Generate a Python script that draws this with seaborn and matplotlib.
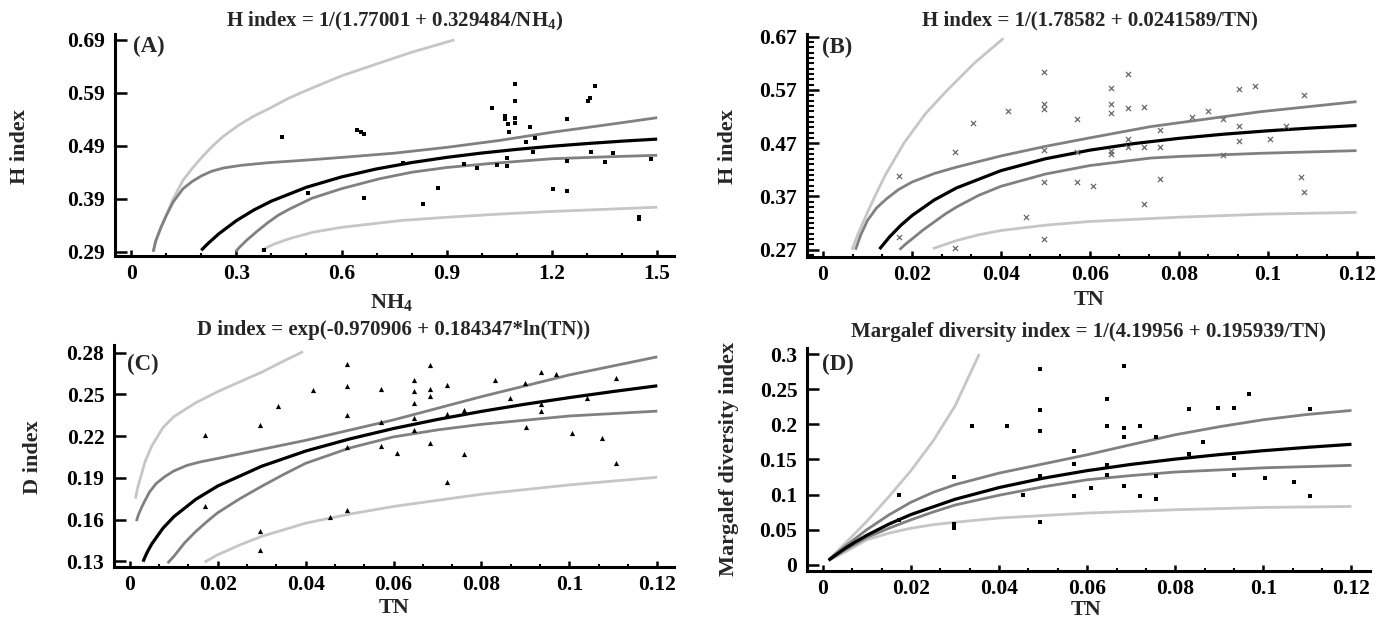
import matplotlib
matplotlib.use("Agg")
import matplotlib.pyplot as plt
import numpy as np
import pandas as pd
import seaborn as sns
from matplotlib.ticker import FixedLocator

# ---------------- data ----------------
# Panel A : H index vs NH4
A_x = [0.379, 0.431, 0.504, 0.643, 0.656, 0.665, 0.665, 0.774, 0.831, 0.876, 0.948, 0.986, 1.030, 1.043,
       1.066, 1.066, 1.075, 1.072, 1.072, 1.077, 1.096, 1.096, 1.096, 1.096, 1.126, 1.136, 1.151, 1.145,
       1.202, 1.244, 1.244, 1.242, 1.303, 1.309, 1.324, 1.310, 1.350, 1.373, 1.449, 1.449, 1.481]
A_y = [0.294, 0.506, 0.400, 0.519, 0.516, 0.512, 0.391, 0.458, 0.380, 0.411, 0.456, 0.448, 0.562, 0.454,
       0.546, 0.540, 0.532, 0.466, 0.451, 0.516, 0.607, 0.575, 0.543, 0.533, 0.497, 0.526, 0.505, 0.479,
       0.408, 0.540, 0.405, 0.462, 0.575, 0.580, 0.603, 0.479, 0.459, 0.476, 0.356, 0.352, 0.465]
A_fit_x = [0.2, 0.21, 0.22, 0.25, 0.3, 0.35, 0.4, 0.5, 0.6, 0.7, 0.8, 0.9, 1.0, 1.1, 1.2, 1.3, 1.4, 1.5]
A_fit_y = [0.2926, 0.2995, 0.3060, 0.3238, 0.3486, 0.3688, 0.3855, 0.4117, 0.4312, 0.4463, 0.4583,
           0.4681, 0.4763, 0.4832, 0.4891, 0.4942, 0.4987, 0.5026]
A_cu_x = [0.063, 0.07, 0.085, 0.1, 0.12, 0.148, 0.175, 0.2, 0.23, 0.263, 0.313, 0.39, 0.5, 0.6, 0.75,
          0.9, 1.05, 1.2, 1.35, 1.5]
A_cu_y = [0.29, 0.31, 0.336, 0.358, 0.384, 0.409, 0.423, 0.433, 0.442, 0.448, 0.453, 0.458, 0.463,
          0.468, 0.476, 0.487, 0.500, 0.5155, 0.529, 0.543]
A_cl_x = [0.298, 0.31, 0.33, 0.36, 0.39, 0.42, 0.453, 0.516, 0.6, 0.707, 0.8, 0.9, 1.024, 1.2, 1.35, 1.5]
A_cl_y = [0.29, 0.299, 0.312, 0.329, 0.345, 0.359, 0.371, 0.391, 0.409, 0.4275, 0.44, 0.449, 0.4565,
          0.4655, 0.469, 0.472]
A_pu_x = [0.063, 0.07, 0.085, 0.1, 0.12, 0.148, 0.175, 0.2, 0.23, 0.263, 0.307, 0.35, 0.39, 0.45,
          0.516, 0.6, 0.707, 0.802, 0.922]
A_pu_y = [0.29, 0.31, 0.335, 0.358, 0.39, 0.425, 0.448, 0.467, 0.488, 0.508, 0.529, 0.546, 0.559,
          0.58, 0.599, 0.622, 0.646, 0.667, 0.69]
A_pl_x = [0.371, 0.39, 0.41, 0.453, 0.52, 0.6, 0.771, 0.9, 1.05, 1.2, 1.35, 1.5]
A_pl_y = [0.2913, 0.299, 0.305, 0.315, 0.327, 0.336, 0.349, 0.355, 0.361, 0.366, 0.370, 0.374]

# Panel B : H index vs TN
B_x = [0.0172, 0.0172, 0.0297, 0.0297, 0.0338, 0.0417, 0.0456, 0.0496, 0.0496, 0.0496, 0.0496, 0.0496,
       0.0496, 0.0572, 0.0572, 0.0572, 0.0608, 0.0647, 0.0647, 0.0647, 0.0647, 0.0647, 0.0685, 0.0685,
       0.0685, 0.0685, 0.0721, 0.0721, 0.0721, 0.0759, 0.0759, 0.0759, 0.0831, 0.0866, 0.0900, 0.0900,
       0.0936, 0.0936, 0.0936, 0.0971, 0.1006, 0.1041, 0.1075, 0.1081, 0.1081]
B_y = [0.409, 0.294, 0.453, 0.274, 0.508, 0.530, 0.331, 0.604, 0.543, 0.535, 0.458, 0.397, 0.290, 0.515,
       0.454, 0.397, 0.389, 0.574, 0.544, 0.527, 0.455, 0.449, 0.600, 0.536, 0.477, 0.462, 0.538, 0.463,
       0.356, 0.494, 0.463, 0.403, 0.520, 0.530, 0.515, 0.447, 0.571, 0.503, 0.475, 0.577, 0.478, 0.503,
       0.407, 0.560, 0.378]
B_fit_x = [0.0127, 0.015, 0.0175, 0.02, 0.025, 0.03, 0.04, 0.05, 0.06, 0.07, 0.08, 0.09, 0.1, 0.11, 0.12]
B_fit_y = [0.2711, 0.2944, 0.3158, 0.3340, 0.3633, 0.3859, 0.4184, 0.4407, 0.4569, 0.4693, 0.4790,
           0.4868, 0.4932, 0.4986, 0.5032]
B_cu_x = [0.0073, 0.0085, 0.01, 0.012, 0.0142, 0.017, 0.02, 0.025, 0.03, 0.04, 0.05, 0.06, 0.0736,
          0.0983, 0.12]
B_cu_y = [0.27, 0.298, 0.325, 0.348, 0.365, 0.383, 0.397, 0.413, 0.425, 0.446, 0.464, 0.480, 0.501,
          0.529, 0.548]
B_cl_x = [0.0172, 0.0185, 0.02, 0.0225, 0.025, 0.0275, 0.03, 0.035, 0.04, 0.05, 0.06, 0.0736, 0.08,
          0.0983, 0.12]
B_cl_y = [0.27, 0.28, 0.29, 0.307, 0.322, 0.337, 0.35, 0.372, 0.389, 0.412, 0.428, 0.442, 0.445,
          0.451, 0.456]
B_pu_x = [0.0065, 0.0072, 0.008, 0.01, 0.012, 0.014, 0.0182, 0.023, 0.028, 0.034, 0.0406]
B_pu_y = [0.27, 0.285, 0.302, 0.34, 0.376, 0.41, 0.47, 0.525, 0.57, 0.62, 0.667]
B_pl_x = [0.0247, 0.0275, 0.03, 0.035, 0.04, 0.05, 0.06, 0.08, 0.1, 0.12]
B_pl_y = [0.272, 0.280, 0.287, 0.298, 0.306, 0.316, 0.323, 0.331, 0.337, 0.340]

# Panel C : D index vs TN
C_x = [0.0172, 0.0172, 0.0296, 0.0296, 0.0296, 0.0338, 0.0417, 0.0455, 0.0495, 0.0495, 0.0495, 0.0495,
       0.0495, 0.0572, 0.0572, 0.0572, 0.0608, 0.0647, 0.0647, 0.0647, 0.0647, 0.0647, 0.0684, 0.0684,
       0.0684, 0.0684, 0.0722, 0.0722, 0.0722, 0.0760, 0.0760, 0.0830, 0.0866, 0.0900, 0.0901, 0.0936,
       0.0936, 0.0936, 0.0970, 0.1006, 0.1040, 0.1074, 0.1107, 0.1107]
C_y = [0.221, 0.170, 0.228, 0.152, 0.138, 0.242, 0.253, 0.162, 0.272, 0.256, 0.235, 0.212, 0.167, 0.254,
       0.230, 0.213, 0.208, 0.260, 0.2525, 0.244, 0.233, 0.2245, 0.271, 0.254, 0.249, 0.215, 0.257, 0.236,
       0.187, 0.239, 0.207, 0.260, 0.2475, 0.258, 0.2265, 0.2664, 0.243, 0.238, 0.265, 0.222, 0.2475,
       0.2185, 0.2616, 0.2006]
C_fit_x = [0.003, 0.0035, 0.004, 0.005, 0.0075, 0.01, 0.015, 0.02, 0.03, 0.04, 0.05, 0.06, 0.07, 0.08,
           0.09, 0.1, 0.11, 0.12]
C_fit_y = [0.1298, 0.1335, 0.1369, 0.1426, 0.1537, 0.1621, 0.1746, 0.1842, 0.1984, 0.2093, 0.2180,
           0.2255, 0.2320, 0.2378, 0.2430, 0.2477, 0.2521, 0.2562]
C_cu_x = [0.0015, 0.002, 0.003, 0.0045, 0.006, 0.008, 0.01, 0.013, 0.016, 0.02, 0.03, 0.04, 0.06, 0.08,
          0.1, 0.12]
C_cu_y = [0.159, 0.164, 0.171, 0.18, 0.186, 0.191, 0.195, 0.199, 0.2015, 0.204, 0.2105, 0.217, 0.2317,
          0.2484, 0.264, 0.277]
C_cl_x = [0.0086, 0.01, 0.0125, 0.015, 0.0175, 0.02, 0.025, 0.03, 0.035, 0.04, 0.05, 0.06, 0.07, 0.08,
          0.1, 0.12]
C_cl_y = [0.1288, 0.1336, 0.1435, 0.1515, 0.1585, 0.165, 0.175, 0.184, 0.1925, 0.2005, 0.2115, 0.2195,
          0.2245, 0.2285, 0.2345, 0.238]
C_pu_x = [0.0013, 0.0017, 0.0025, 0.0035, 0.005, 0.0075, 0.01, 0.015, 0.02, 0.025, 0.0303, 0.035, 0.0394]
C_pu_y = [0.175, 0.182, 0.191, 0.202, 0.213, 0.226, 0.234, 0.244, 0.252, 0.259, 0.2664, 0.274, 0.2807]
C_pl_x = [0.017, 0.02, 0.025, 0.03, 0.04, 0.05, 0.06, 0.08, 0.1, 0.12]
C_pl_y = [0.1295, 0.1348, 0.1418, 0.148, 0.1575, 0.164, 0.1695, 0.1783, 0.185, 0.1905]

# Panel D : Margalef diversity index vs TN
D_x = [0.0173, 0.0173, 0.0298, 0.0298, 0.0298, 0.0338, 0.0417, 0.0455, 0.0493, 0.0493, 0.0493, 0.0493,
       0.0493, 0.0571, 0.0571, 0.0571, 0.0608, 0.0646, 0.0646, 0.0646, 0.0646, 0.0683, 0.0683, 0.0683,
       0.0683, 0.0720, 0.0720, 0.0756, 0.0756, 0.0756, 0.0830, 0.0830, 0.0863, 0.0898, 0.0933, 0.0933,
       0.0933, 0.0968, 0.1003, 0.1070, 0.1105, 0.1105]
D_y = [0.0987, 0.0631, 0.1243, 0.0584, 0.0522, 0.1974, 0.1974, 0.0987, 0.2786, 0.2207, 0.1898, 0.1258,
       0.0612, 0.1614, 0.1433, 0.0973, 0.1092, 0.2359, 0.1974, 0.1424, 0.1272, 0.2833, 0.1946, 0.1818,
       0.1115, 0.1974, 0.0973, 0.1818, 0.1267, 0.0935, 0.2216, 0.1580, 0.1742, 0.2231, 0.2231, 0.1519,
       0.1272, 0.2425, 0.1234, 0.1172, 0.2216, 0.0973]
D_fit_x = [0.0013, 0.0025, 0.005, 0.0075, 0.01, 0.015, 0.02, 0.03, 0.04, 0.05, 0.06, 0.07, 0.08, 0.09,
           0.1, 0.11, 0.12]
D_fit_y = [0.0065, 0.0121, 0.0231, 0.0330, 0.0420, 0.0579, 0.0715, 0.0932, 0.1099, 0.1232, 0.1340,
           0.1429, 0.1504, 0.1568, 0.1624, 0.1672, 0.1715]
D_cu_x = [0.0013, 0.005, 0.01, 0.015, 0.02, 0.025, 0.03, 0.04, 0.05, 0.06, 0.07, 0.08, 0.09, 0.1, 0.11,
          0.12]
D_cu_y = [0.0068, 0.026, 0.050, 0.071, 0.089, 0.103, 0.114, 0.1305, 0.1435, 0.1566, 0.171, 0.1851,
          0.1965, 0.2065, 0.214, 0.2197]
D_cl_x = [0.0013, 0.005, 0.01, 0.015, 0.02, 0.025, 0.03, 0.04, 0.05, 0.06, 0.07, 0.08, 0.1, 0.12]
D_cl_y = [0.0062, 0.021, 0.039, 0.052, 0.064, 0.075, 0.085, 0.099, 0.111, 0.121, 0.127, 0.132, 0.138,
          0.1415]
D_pu_x = [0.0013, 0.005, 0.01, 0.015, 0.02, 0.025, 0.03, 0.0355]
D_pu_y = [0.007, 0.03, 0.062, 0.097, 0.134, 0.176, 0.226, 0.30]
D_pl_x = [0.0013, 0.005, 0.01, 0.015, 0.02, 0.025, 0.03, 0.04, 0.06, 0.08, 0.1, 0.12]
D_pl_y = [0.006, 0.018, 0.0356, 0.045, 0.052, 0.057, 0.0605, 0.0665, 0.0736, 0.0783, 0.0816, 0.083]

# ticks / labels
A_xticks = [0, 0.3, 0.6, 0.9, 1.2, 1.5]
A_xticklabels = ["0", "0.3", "0.6", "0.9", "1.2", "1.5"]
A_yticks = [0.29, 0.39, 0.49, 0.59, 0.69]
A_yticklabels = ["0.29", "0.39", "0.49", "0.59", "0.69"]
TN_xticks = [0, 0.02, 0.04, 0.06, 0.08, 0.1, 0.12]
TN_xticklabels = ["0", "0.02", "0.04", "0.06", "0.08", "0.1", "0.12"]
B_yticks = [0.27, 0.37, 0.47, 0.57, 0.67]
B_yticklabels = ["0.27", "0.37", "0.47", "0.57", "0.67"]
C_yticks = [0.13, 0.16, 0.19, 0.22, 0.25, 0.28]
C_yticklabels = ["0.13", "0.16", "0.19", "0.22", "0.25", "0.28"]
D_yticks = [0, 0.05, 0.1, 0.15, 0.2, 0.25, 0.3]
D_yticklabels = ["0", "0.05", "0.1", "0.15", "0.2", "0.25", "0.3"]

titles = ["H index = 1/(1.77001 + 0.329484/NH$_4$)",
          "H index = 1/(1.78582 + 0.0241589/TN)",
          "D index = exp(-0.970906 + 0.184347*ln(TN))",
          "Margalef diversity index = 1/(4.19956 + 0.195939/TN)"]
xlabels = ["NH$_4$", "TN", "TN", "TN"]
ylabels = ["H index", "H index", "D index", "Margalef diversity index"]
panel_tags = ["(A)", "(B)", "(C)", "(D)"]

# ---------------- style ----------------
sns.set_style("ticks")
plt.rcParams["font.family"] = ["Liberation Serif", "DejaVu Serif"]
plt.rcParams["font.weight"] = "bold"
plt.rcParams["axes.labelweight"] = "bold"
plt.rcParams["axes.titleweight"] = "bold"
plt.rcParams["mathtext.fontset"] = "custom"
plt.rcParams["mathtext.rm"] = "Liberation Serif:bold"
plt.rcParams["mathtext.it"] = "Liberation Serif:bold"
plt.rcParams["mathtext.bf"] = "Liberation Serif:bold"

W, H = 1385, 619
fig = plt.figure(figsize=(W / 100, H / 100), dpi=100)


def box(l, t, r, b):
    return [l / W, 1 - b / H, (r - l) / W, (b - t) / H]


ax_boxes = [box(115, 34, 674, 256), box(807, 34, 1373, 257),
            box(114, 345, 674, 567), box(807, 348, 1370, 571)]
xlims = [(-0.046, 1.548), (-0.0036, 0.1237), (-0.0036, 0.1238), (-0.0036, 0.1242)]
ylims = [(0.2819, 0.701), (0.2563, 0.675), (0.126, 0.2855), (-0.0089, 0.3086)]
title_y = [1.036, 1.036, 1.045, 1.049]
xlabel_pos = [(0.495, -0.234), (0.4975, -0.215), (0.4998, -0.207), (0.4964, -0.197)]
ylabel_pos = [(-0.170, 0.492), (-0.140, 0.495), (-0.144, 0.497), (-0.139, 0.502)]
tag_pos = [(0.032, 0.946), (0.026, 0.939), (0.023, 0.914), (0.027, 0.924)]

PRED = "#c6c6c6"
CONF = "#808080"
FIT = "#000000"

panels = [
    dict(px=A_x, py=A_y, fit=(A_fit_x, A_fit_y), cu=(A_cu_x, A_cu_y), cl=(A_cl_x, A_cl_y),
         pu=(A_pu_x, A_pu_y), pl=(A_pl_x, A_pl_y), marker="s", mcolor="black", ms=12, mlw=0,
         xt=A_xticks, xtl=A_xticklabels, xminor=np.arange(0, 1.55, 0.1),
         yt=A_yticks, ytl=A_yticklabels, yminor=None),
    dict(px=B_x, py=B_y, fit=(B_fit_x, B_fit_y), cu=(B_cu_x, B_cu_y), cl=(B_cl_x, B_cl_y),
         pu=(B_pu_x, B_pu_y), pl=(B_pl_x, B_pl_y), marker="x", mcolor="#6a6a6a", ms=14, mlw=0.9,
         xt=TN_xticks, xtl=TN_xticklabels, xminor=np.arange(0, 0.1205, 0.02 / 3),
         yt=B_yticks, ytl=B_yticklabels, yminor=np.arange(0.26, 0.676, 0.01)),
    dict(px=C_x, py=C_y, fit=(C_fit_x, C_fit_y), cu=(C_cu_x, C_cu_y), cl=(C_cl_x, C_cl_y),
         pu=(C_pu_x, C_pu_y), pl=(C_pl_x, C_pl_y), marker="^", mcolor="black", ms=14, mlw=0,
         xt=TN_xticks, xtl=TN_xticklabels, xminor=np.arange(0, 0.1205, 0.02 / 3),
         yt=C_yticks, ytl=C_yticklabels, yminor=None),
    dict(px=D_x, py=D_y, fit=(D_fit_x, D_fit_y), cu=(D_cu_x, D_cu_y), cl=(D_cl_x, D_cl_y),
         pu=(D_pu_x, D_pu_y), pl=(D_pl_x, D_pl_y), marker="s", mcolor="black", ms=10, mlw=0,
         xt=TN_xticks, xtl=TN_xticklabels, xminor=np.arange(0, 0.1205, 0.02 / 3),
         yt=D_yticks, ytl=D_yticklabels, yminor=None),
]

for i, p in enumerate(panels):
    ax = fig.add_axes(ax_boxes[i])
    for key, col, lw in [("pu", PRED, 2.0), ("pl", PRED, 2.0), ("cu", CONF, 2.0), ("cl", CONF, 2.0),
                         ("fit", FIT, 2.3)]:
        xs, ys = p[key]
        sns.lineplot(x=xs, y=ys, ax=ax, color=col, linewidth=lw, sort=False, estimator=None,
                     solid_capstyle="butt", solid_joinstyle="round", zorder=2)
    sns.scatterplot(x=p["px"], y=p["py"], ax=ax, marker=p["marker"], color=p["mcolor"], s=p["ms"],
                    linewidth=p["mlw"], zorder=3, legend=False)

    ax.set_xlim(*xlims[i])
    ax.set_ylim(*ylims[i])
    ax.xaxis.set_major_locator(FixedLocator(p["xt"]))
    ax.set_xticklabels(p["xtl"])
    ax.xaxis.set_minor_locator(FixedLocator(p["xminor"]))
    ax.yaxis.set_major_locator(FixedLocator(p["yt"]))
    ax.set_yticklabels(p["ytl"])
    if p["yminor"] is not None:
        ax.yaxis.set_minor_locator(FixedLocator(p["yminor"]))

    sns.despine(ax=ax)
    for s in ("left", "bottom"):
        ax.spines[s].set_linewidth(2.2)
        ax.spines[s].set_color("black")
    ax.tick_params(axis="x", which="major", direction="in", length=4, width=1.8, pad=6,
                   labelsize=15.5, colors="black")
    ax.tick_params(axis="x", which="minor", direction="in", length=2.5, width=1.5, colors="black")
    ax.tick_params(axis="y", which="major", direction="in", length=8.5, width=1.8, pad=7,
                   labelsize=15.5, colors="black")
    ax.tick_params(axis="y", which="minor", direction="in", length=4.8, width=1.5, colors="black")

    ax.set_title(titles[i], fontsize=15, fontweight="bold", y=title_y[i], pad=0)
    ax.set_xlabel(xlabels[i], fontsize=16, fontweight="bold")
    ax.xaxis.set_label_coords(*xlabel_pos[i])
    ax.xaxis.label.set_va("baseline")
    ax.set_ylabel(ylabels[i], fontsize=16, fontweight="bold")
    ax.yaxis.set_label_coords(*ylabel_pos[i])
    ax.yaxis.label.set_va("center")
    ax.text(tag_pos[i][0], tag_pos[i][1], panel_tags[i], transform=ax.transAxes, fontsize=16.5,
            fontweight="bold", ha="left", va="center")
    ax.grid(False)

fig.savefig("out.png", dpi=100)
